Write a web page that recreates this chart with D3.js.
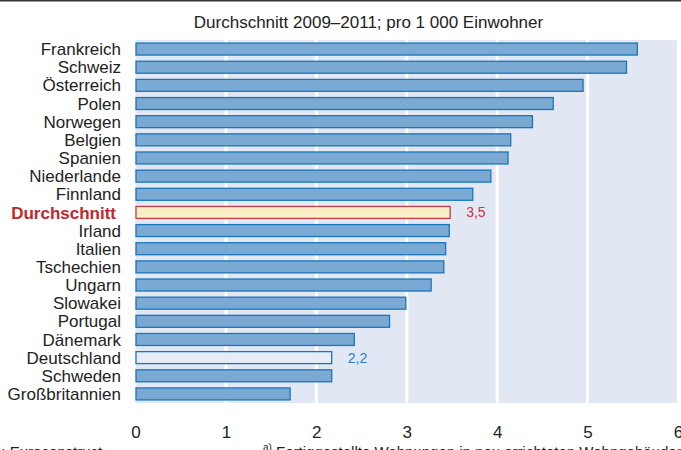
<!DOCTYPE html>
<html lang="de">
    <head>
        <meta charset="utf-8">
        <title>Wohnungsbau Europa</title>
        <script src="https://cdn.jsdelivr.net/npm/d3@7/dist/d3.min.js"></script>
        <style>
            body { margin: 0; background: #fff; }
            text { font-family: "Liberation Sans", Arial, sans-serif; }
            .axis path, .axis line { display: none; }
            .axis text { font-size: 17px; fill: #222; }
        </style>
    </head>
    <body>
        <script>
            const laender = ["Frankreich", "Schweiz", "Österreich", "Polen", "Norwegen", "Belgien",
                "Spanien", "Niederlande", "Finnland", "Durchschnitt", "Irland", "Italien",
                "Tschechien", "Ungarn", "Slowakei", "Portugal", "Dänemark", "Deutschland",
                "Schweden", "Großbritannien"]
            const werte = [5.55, 5.43, 4.95, 4.62, 4.39, 4.15, 4.12, 3.93, 3.73, 3.48, 3.47, 3.43,
                3.41, 3.27, 2.99, 2.81, 2.42, 2.17, 2.17, 1.71]
            const ticks = [0, 1, 2, 3, 4, 5, 6]
            const wertLabels = { "Durchschnitt": "3,5", "Deutschland": "2,2" }

            const w = 681
            const h = 450
            const data = laender.map((d, i) => ({ land: d, wert: werte[i] }))

            const svg = d3.select("body").append("svg")
                .attr("width", w)
                .attr("height", h)

            const x = d3.scaleLinear().domain([0, 6]).range([135.5, 678])
            const y = d3.scaleBand().domain(laender).range([40, 403])
                .paddingInner(0.34).paddingOuter(0.17)

            // top rule
            svg.append("line")
                .attr("x1", 0).attr("x2", w).attr("y1", 0.75).attr("y2", 0.75)
                .attr("stroke", "#333").attr("stroke-width", 1.5)

            svg.append("text")
                .attr("x", 368.5).attr("y", 28)
                .attr("text-anchor", "middle")
                .attr("font-size", "17px").attr("fill", "#222")
                .text("Durchschnitt 2009–2011; pro 1 000 Einwohner")

            // background panel
            svg.append("rect")
                .attr("x", x(0)).attr("y", 40)
                .attr("width", 677 - x(0)).attr("height", 363)
                .attr("fill", "#e1e8f4")

            svg.selectAll(".grid")
                .data(ticks.slice(1, -1))
                .enter().append("line")
                .attr("class", "grid")
                .attr("x1", d => x(d)).attr("x2", d => x(d))
                .attr("y1", 40).attr("y2", 403)
                .attr("stroke", "#fff").attr("stroke-width", 3)

            const fill = d => d.land === "Durchschnitt" ? "#fbefc8" : d.land === "Deutschland" ? "#e6edf7" : "#7aaad4"
            const stroke = d => d.land === "Durchschnitt" ? "#cc3a45" : "#1b75bc"

            svg.selectAll(".bar")
                .data(data)
                .enter().append("rect")
                .attr("class", "bar")
                .attr("x", x(0) + 0.5)
                .attr("y", d => y(d.land))
                .attr("width", d => x(d.wert) - x(0) - 0.5)
                .attr("height", y.bandwidth())
                .attr("fill", fill)
                .attr("stroke", stroke)
                .attr("stroke-width", 1.3)

            svg.selectAll(".cat")
                .data(data)
                .enter().append("text")
                .attr("class", "cat")
                .attr("x", d => d.land === "Durchschnitt" ? 116 : 121)
                .attr("y", d => y(d.land) + y.bandwidth() / 2)
                .attr("dy", "0.36em")
                .attr("text-anchor", "end")
                .attr("font-size", "17px")
                .attr("font-weight", d => d.land === "Durchschnitt" ? "bold" : "normal")
                .attr("fill", d => d.land === "Durchschnitt" ? "#c0272d" : "#222")
                .text(d => d.land)

            svg.selectAll(".val")
                .data(data.filter(d => wertLabels[d.land]))
                .enter().append("text")
                .attr("class", "val")
                .attr("x", d => x(d.wert) + 16)
                .attr("y", d => y(d.land) + y.bandwidth() / 2)
                .attr("dy", "0.36em")
                .attr("font-size", "14px")
                .attr("fill", d => d.land === "Durchschnitt" ? "#c8343e" : "#2a7fc1")
                .text(d => wertLabels[d.land])

            svg.append("g")
                .attr("class", "axis")
                .attr("transform", "translate(0, 403)")
                .call(d3.axisBottom(x).tickValues(ticks).tickSize(0).tickPadding(23).tickFormat(d3.format("d")))

            // footnotes, cut off at the bottom edge
            svg.append("text")
                .attr("x", -42).attr("y", 457)
                .attr("font-size", "15px").attr("fill", "#222")
                .text("Quelle: Euroconstruct")

            const fn = svg.append("text")
                .attr("x", 263).attr("y", 457)
                .attr("font-size", "15px").attr("fill", "#222")
            fn.append("tspan").attr("font-size", "10px").attr("dy", "-6").text("a)")
            fn.append("tspan").attr("dy", "6").text(" Fertiggestellte Wohnungen in neu errichteten Wohngebäuden")
        </script>
    </body>
</html>
